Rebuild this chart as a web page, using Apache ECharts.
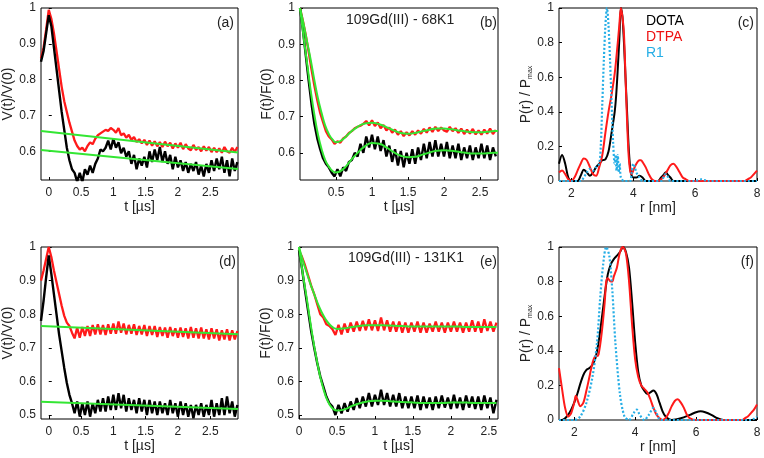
<!DOCTYPE html>
<html><head><meta charset="utf-8">
<script src="https://cdn.jsdelivr.net/npm/echarts@6/dist/echarts.min.js"></script>
<style>html,body{margin:0;padding:0;background:#fff}#c{width:764px;height:458px}</style>
</head><body><div id="c"></div>
<script>
// ---------- DATA ----------
// time grids (µs)
const tA = [-0.12,-0.08,-0.04,0,0.04,0.08,0.12,0.16,0.2,0.24,0.28,0.32,0.36,0.4,0.44,0.48,0.52,0.56,0.6,0.64,0.68,0.72,0.76,0.8,0.84,0.88,0.92,0.96,1,1.04,1.08,1.12,1.16,1.2,1.24,1.28,1.32,1.36,1.4,1.44,1.48,1.52,1.56,1.6,1.64,1.68,1.72,1.76,1.8,1.84,1.88,1.92,1.96,2,2.04,2.08,2.12,2.16,2.2,2.24,2.28,2.32,2.36,2.4,2.44,2.48,2.52,2.56,2.6,2.64,2.68,2.72,2.76,2.8,2.84,2.88,2.92];
const tB = [0,0.04,0.08,0.12,0.16,0.2,0.24,0.28,0.32,0.36,0.4,0.44,0.48,0.52,0.56,0.6,0.64,0.68,0.72,0.76,0.8,0.84,0.88,0.92,0.96,1,1.04,1.08,1.12,1.16,1.2,1.24,1.28,1.32,1.36,1.4,1.44,1.48,1.52,1.56,1.6,1.64,1.68,1.72,1.76,1.8,1.84,1.88,1.92,1.96,2,2.04,2.08,2.12,2.16,2.2,2.24,2.28,2.32,2.36,2.4,2.44,2.48,2.52,2.56,2.6,2.64,2.68,2.72];
const tE = [0,0.04,0.08,0.12,0.16,0.2,0.24,0.28,0.32,0.36,0.4,0.44,0.48,0.52,0.56,0.6,0.64,0.68,0.72,0.76,0.8,0.84,0.88,0.92,0.96,1,1.04,1.08,1.12,1.16,1.2,1.24,1.28,1.32,1.36,1.4,1.44,1.48,1.52,1.56,1.6,1.64,1.68,1.72,1.76,1.8,1.84,1.88,1.92,1.96,2,2.04,2.08,2.12,2.16,2.2,2.24,2.28,2.32,2.36,2.4,2.44,2.48,2.52,2.56,2.6];

// (a) V(t)/V(0) 68K1
const aRed = [0.86,0.89,0.94,0.995,0.97,0.93,0.88,0.83,0.78,0.74,0.71,0.68,0.655,0.63,0.615,0.605,0.61,0.6,0.615,0.625,0.62,0.635,0.645,0.65,0.655,0.66,0.657,0.665,0.66,0.652,0.665,0.645,0.65,0.638,0.646,0.632,0.64,0.626,0.634,0.622,0.632,0.618,0.63,0.616,0.628,0.614,0.626,0.612,0.627,0.614,0.624,0.608,0.622,0.61,0.624,0.606,0.62,0.608,0.603,0.618,0.604,0.612,0.6,0.614,0.602,0.612,0.598,0.61,0.598,0.608,0.596,0.612,0.6,0.596,0.61,0.598,0.612];
const aBlack = [0.85,0.88,0.93,0.98,0.95,0.89,0.83,0.77,0.71,0.66,0.61,0.575,0.55,0.54,0.515,0.54,0.515,0.55,0.535,0.56,0.54,0.565,0.58,0.605,0.6,0.61,0.63,0.605,0.635,0.61,0.625,0.595,0.61,0.585,0.6,0.565,0.59,0.55,0.58,0.56,0.585,0.555,0.6,0.57,0.605,0.575,0.612,0.57,0.6,0.565,0.59,0.55,0.585,0.555,0.575,0.545,0.57,0.54,0.565,0.545,0.57,0.535,0.56,0.53,0.565,0.54,0.575,0.545,0.58,0.55,0.585,0.54,0.575,0.53,0.58,0.545,0.57];
const aBgT = [-0.12,2.93];
const aBgRed = [0.657,0.597];
const aBgBlack = [0.604,0.551];

// (b) F(t)/F(0) 68K1
const bRed = [1.0,0.965,0.925,0.88,0.83,0.785,0.745,0.71,0.685,0.66,0.645,0.637,0.625,0.632,0.628,0.64,0.645,0.655,0.66,0.668,0.672,0.675,0.68,0.688,0.676,0.69,0.674,0.684,0.668,0.677,0.662,0.67,0.656,0.664,0.65,0.66,0.646,0.657,0.648,0.66,0.65,0.662,0.653,0.666,0.656,0.67,0.658,0.672,0.66,0.67,0.662,0.658,0.672,0.66,0.668,0.655,0.667,0.652,0.664,0.653,0.666,0.651,0.662,0.65,0.664,0.653,0.667,0.652,0.663];
const bBlack = [1.0,0.94,0.87,0.8,0.735,0.68,0.64,0.61,0.585,0.57,0.56,0.545,0.535,0.555,0.535,0.56,0.55,0.575,0.58,0.6,0.59,0.625,0.6,0.645,0.615,0.65,0.61,0.645,0.605,0.635,0.59,0.62,0.575,0.61,0.565,0.605,0.56,0.6,0.57,0.61,0.57,0.615,0.58,0.625,0.585,0.63,0.59,0.635,0.59,0.625,0.59,0.63,0.585,0.62,0.585,0.625,0.58,0.615,0.585,0.62,0.58,0.615,0.585,0.625,0.585,0.62,0.58,0.615,0.59];
const bFitT = [0,0.05,0.1,0.15,0.2,0.25,0.3,0.35,0.4,0.45,0.5,0.6,0.7,0.8,0.9,1.0,1.1,1.2,1.3,1.4,1.5,1.6,1.7,1.8,1.9,2.0,2.1,2.2,2.3,2.4,2.5,2.6,2.7,2.75];
const bFitRed = [1.0,0.955,0.905,0.855,0.8,0.75,0.71,0.675,0.652,0.637,0.629,0.638,0.657,0.672,0.681,0.683,0.679,0.671,0.662,0.655,0.653,0.655,0.66,0.664,0.667,0.667,0.665,0.662,0.659,0.657,0.657,0.658,0.66,0.66];
const bFitBlack = [1.0,0.92,0.845,0.77,0.705,0.65,0.61,0.58,0.562,0.55,0.546,0.555,0.578,0.6,0.618,0.627,0.625,0.615,0.602,0.592,0.588,0.589,0.595,0.601,0.606,0.607,0.606,0.603,0.6,0.598,0.598,0.599,0.6,0.6];

// (c) P(r)/Pmax 68K1
const cDotaR = [1.6,1.7,1.8,1.9,2.0,2.2,2.3,2.4,2.5,2.6,2.7,2.8,2.9,3.0,3.1,3.2,3.3,3.4,3.45,3.5,3.55,3.6,3.65,3.7,3.75,3.8,3.85,3.9,3.95,4.0,4.1,4.2,4.3,4.4,4.5,4.8,4.9,5.0,5.05,5.1,5.2,5.3,6,7,8];
const cDota = [0.1,0.15,0.1,0.02,0,0,0.03,0.065,0.05,0.03,0.05,0.08,0.1,0.12,0.125,0.17,0.28,0.4,0.5,0.65,0.82,1.0,0.95,0.8,0.6,0.4,0.2,0.08,0.03,0.02,0.02,0.03,0.02,0,0,0,0.02,0.04,0.05,0.04,0.02,0,0,0,0];
const cDtpaR = [1.6,1.7,1.8,1.9,2.0,2.1,2.2,2.3,2.4,2.5,2.6,2.7,2.8,2.9,3.0,3.1,3.2,3.3,3.4,3.5,3.55,3.6,3.65,3.7,3.75,3.8,3.85,3.9,3.95,4.0,4.1,4.2,4.25,4.3,4.4,4.5,4.6,4.7,4.8,4.9,5.0,5.1,5.2,5.3,5.4,5.5,5.6,5.7,5.8,6,7,7.5,7.6,7.7,7.8,7.9,8];
const cDtpa = [0.05,0.06,0.04,0.01,0,0.02,0.06,0.1,0.13,0.12,0.08,0.04,0.03,0.08,0.15,0.28,0.4,0.5,0.62,0.8,0.9,1.0,0.95,0.85,0.6,0.35,0.15,0.06,0.04,0.06,0.1,0.12,0.12,0.11,0.08,0.04,0.01,0,0,0.01,0.03,0.06,0.09,0.1,0.08,0.05,0.02,0.01,0,0,0,0,0,0.01,0.02,0.04,0.06];
const cR1R = [1.6,2.0,2.3,2.4,2.5,2.6,2.7,2.8,2.9,2.95,3.0,3.05,3.1,3.15,3.2,3.25,3.3,3.35,3.4,3.43,3.46,3.5,3.53,3.56,3.6,3.7,3.8,3.9,3.95,4.0,4.05,4.1,4.2,4.3,4.5,4.9,5.0,5.05,5.1,5.2,5.5,6.0,6.2,6.4,7,8];
const cR1 = [0,0,0,0.02,0.05,0.07,0.06,0.08,0.1,0.2,0.45,0.7,0.9,1.0,0.9,0.7,0.45,0.22,0.1,0.15,0.06,0.15,0.05,0.1,0.02,0,0,0,0.05,0.1,0.08,0.05,0.02,0,0,0,0.03,0.04,0.03,0,0,0,0.01,0,0,0];

// (d) V(t)/V(0) 131K1
const dRed = [0.9,0.93,0.965,1.0,0.97,0.93,0.895,0.86,0.825,0.795,0.775,0.765,0.745,0.728,0.76,0.73,0.762,0.735,0.765,0.735,0.768,0.74,0.77,0.74,0.768,0.738,0.77,0.742,0.772,0.742,0.778,0.745,0.772,0.74,0.768,0.742,0.77,0.738,0.765,0.74,0.768,0.735,0.765,0.738,0.765,0.732,0.762,0.735,0.76,0.73,0.762,0.735,0.758,0.73,0.76,0.732,0.758,0.728,0.762,0.73,0.758,0.728,0.76,0.728,0.755,0.725,0.758,0.728,0.755,0.722,0.752,0.725,0.755,0.722,0.752,0.725,0.75];
const dBlack = [0.78,0.84,0.91,0.975,0.92,0.86,0.8,0.74,0.69,0.64,0.595,0.56,0.535,0.505,0.54,0.495,0.535,0.5,0.54,0.495,0.535,0.505,0.545,0.51,0.55,0.51,0.555,0.515,0.56,0.515,0.565,0.52,0.56,0.51,0.55,0.515,0.545,0.505,0.55,0.51,0.545,0.5,0.545,0.505,0.54,0.5,0.54,0.505,0.535,0.5,0.545,0.505,0.535,0.495,0.54,0.5,0.535,0.495,0.53,0.49,0.53,0.5,0.535,0.495,0.53,0.5,0.545,0.495,0.535,0.5,0.55,0.5,0.555,0.505,0.54,0.495,0.53];
const dBgT = [-0.12,2.93];
const dBgRed = [0.765,0.74];
const dBgBlack = [0.539,0.518];

// (e) F(t)/F(0) 131K1
const eRed = [0.99,0.97,0.945,0.915,0.885,0.86,0.83,0.8,0.79,0.77,0.765,0.755,0.738,0.768,0.74,0.772,0.745,0.775,0.748,0.778,0.75,0.78,0.752,0.785,0.752,0.782,0.75,0.79,0.752,0.782,0.748,0.778,0.748,0.778,0.745,0.775,0.745,0.775,0.748,0.778,0.745,0.775,0.745,0.772,0.748,0.778,0.748,0.775,0.745,0.775,0.748,0.778,0.748,0.775,0.745,0.775,0.748,0.782,0.748,0.778,0.745,0.785,0.75,0.778,0.748,0.775];
const eBlack = [0.99,0.935,0.87,0.81,0.75,0.7,0.655,0.615,0.585,0.555,0.535,0.525,0.5,0.53,0.505,0.535,0.51,0.54,0.515,0.55,0.52,0.555,0.525,0.565,0.525,0.56,0.53,0.575,0.53,0.565,0.525,0.56,0.525,0.565,0.52,0.555,0.52,0.555,0.52,0.558,0.515,0.555,0.52,0.552,0.515,0.555,0.52,0.558,0.522,0.552,0.518,0.56,0.52,0.552,0.515,0.558,0.522,0.555,0.518,0.555,0.515,0.558,0.52,0.552,0.505,0.545];
const eFitT = [0,0.05,0.1,0.15,0.2,0.25,0.3,0.35,0.4,0.45,0.5,0.6,0.7,0.8,0.9,1.0,1.1,1.2,1.3,1.4,1.5,1.6,1.7,1.8,1.9,2.0,2.1,2.2,2.3,2.4,2.5,2.6];
const eFitRed = [1.0,0.96,0.925,0.89,0.86,0.83,0.805,0.785,0.77,0.76,0.756,0.758,0.762,0.765,0.767,0.767,0.767,0.766,0.765,0.764,0.763,0.763,0.763,0.763,0.763,0.763,0.763,0.762,0.762,0.762,0.762,0.762];
const eFitBlack = [1.0,0.92,0.85,0.775,0.705,0.645,0.595,0.557,0.532,0.518,0.513,0.517,0.527,0.535,0.54,0.542,0.542,0.541,0.539,0.538,0.537,0.536,0.536,0.536,0.536,0.537,0.537,0.537,0.536,0.536,0.536,0.536];

// (f) P(r)/Pmax 131K1
const fDotaR = [1.5,1.6,1.7,1.8,1.9,2.0,2.1,2.2,2.3,2.4,2.5,2.6,2.7,2.8,2.9,3.0,3.1,3.2,3.3,3.4,3.5,3.6,3.7,3.8,3.9,4.0,4.1,4.2,4.3,4.4,4.5,4.6,4.7,4.8,4.9,5.0,5.2,5.5,5.8,6.0,6.15,6.3,6.5,6.7,6.9,8];
const fDota = [0,0,0.01,0.03,0.06,0.1,0.15,0.21,0.26,0.29,0.3,0.32,0.36,0.45,0.58,0.72,0.84,0.9,0.93,0.95,0.97,1.0,0.97,0.88,0.68,0.45,0.28,0.2,0.17,0.15,0.16,0.17,0.15,0.1,0.05,0.02,0,0.01,0.03,0.045,0.05,0.045,0.03,0.01,0,0];
const fDtpaR = [1.5,1.6,1.7,1.8,1.9,2.0,2.05,2.1,2.2,2.3,2.4,2.5,2.6,2.7,2.75,2.8,2.9,3.0,3.05,3.1,3.2,3.25,3.3,3.4,3.5,3.6,3.7,3.8,3.9,4.0,4.1,4.2,4.3,4.4,4.5,4.6,4.7,4.8,4.9,5.0,5.1,5.2,5.3,5.4,5.5,5.6,5.7,5.8,6.0,7.0,7.5,7.6,7.7,7.8,7.9,8];
const fDtpa = [0.3,0.18,0.07,0.02,0.04,0.1,0.14,0.12,0.08,0.1,0.17,0.25,0.33,0.37,0.37,0.38,0.5,0.68,0.8,0.82,0.8,0.8,0.83,0.88,0.97,1.0,0.96,0.8,0.55,0.35,0.25,0.2,0.18,0.16,0.12,0.07,0.03,0.01,0,0.01,0.04,0.08,0.11,0.12,0.1,0.07,0.03,0.01,0,0,0,0.01,0.02,0.04,0.06,0.09];
const fR1R = [1.5,2.0,2.2,2.4,2.6,2.75,2.85,2.95,3.05,3.15,3.25,3.35,3.5,3.65,3.8,3.95,4.05,4.15,4.3,4.45,4.6,4.7,4.85,7.8,8];
const fR1 = [0,0,0.02,0.1,0.25,0.45,0.7,0.9,1.0,0.95,0.75,0.45,0.15,0.02,0,0.04,0.06,0.03,0,0.03,0.07,0.04,0,0,0.02];

// tick labels
const xTicksAD = [0,0.5,1,1.5,2,2.5];
const xTicksB = [0.5,1,1.5,2,2.5];
const xTicksE = [0,0.5,1,1.5,2,2.5];
const xTicksR = [2,4,6,8];
const yTicksAB = [0.6,0.7,0.8,0.9,1];
const yTicksDE = [0.5,0.6,0.7,0.8,0.9,1];
const yTicksP = [0,0.2,0.4,0.6,0.8,1];
const legendNames = ['DOTA','DTPA','R1'];
const panelTags = ['(a)','(b)','(c)','(d)','(e)','(f)'];
const titleB = '109Gd(III) - 68K1';
const titleE = '109Gd(III) - 131K1';

// ---------- STYLE ----------
const FONT = 'Liberation Sans, Arial, sans-serif';
const RED = '#ff1a1a', BLACK = '#000000', GREEN = '#33e633', BLUE = '#26aee6';
const zip = (x, y) => x.map((v, i) => [v, y[i]]);

const grids = [
  {left: 41, top: 8, width: 197, height: 172},
  {left: 300, top: 8, width: 198, height: 172},
  {left: 559, top: 8, width: 198, height: 173},
  {left: 41, top: 247, width: 197, height: 172},
  {left: 299, top: 247, width: 199, height: 172},
  {left: 559, top: 247, width: 198, height: 173}
].map(g => Object.assign({show: true, borderColor: '#000', borderWidth: 1, backgroundColor: '#fff', containLabel: false}, g));

function xAxis(i, min, max, ticks, name) {
  return {type: 'value', gridIndex: i, min, max,
    name, nameLocation: 'middle', nameGap: 20,
    nameTextStyle: {fontFamily: FONT, fontSize: 14, color: '#222'},
    axisLine: {show: false}, splitLine: {show: false},
    axisTick: {show: true, inside: true, length: 3, lineStyle: {color: '#000'}, customValues: ticks},
    axisLabel: {fontFamily: FONT, fontSize: 12, color: '#222', margin: 7, customValues: ticks}
  };
}
function yAxis(i, min, max, ticks, name, gap) {
  return {type: 'value', gridIndex: i, min, max,
    name, nameLocation: 'middle', nameGap: gap,
    nameTextStyle: {fontFamily: FONT, fontSize: 14, color: '#222',
      rich: {m: {fontFamily: FONT, fontSize: 14, color: '#222'}, s: {fontFamily: FONT, fontSize: 7, color: '#222', padding: [7, 0, 0, 0]}}},
    axisLine: {show: false}, splitLine: {show: false},
    axisTick: {show: true, inside: true, length: 3, lineStyle: {color: '#000'}, customValues: ticks},
    axisLabel: {fontFamily: FONT, fontSize: 12, color: '#222', margin: 5, customValues: ticks}
  };
}

function line(name, xi, data, color, width, extra) {
  return Object.assign({name, type: 'line', xAxisIndex: xi, yAxisIndex: xi, data, showSymbol: false, symbol: 'none',
    lineStyle: {color, width}, itemStyle: {color}, animation: false, silent: true, z: 2}, extra || {});
}

const series = [
  line('DTPA', 0, zip(tA, aRed), RED, 2.3),
  line('DOTA', 0, zip(tA, aBlack), BLACK, 2.4),
  line('fit', 0, zip(aBgT, aBgRed), GREEN, 2, {z: 3}),
  line('fit', 0, zip(aBgT, aBgBlack), GREEN, 2, {z: 3}),

  line('DTPA', 1, zip(tB, bRed), RED, 2.3),
  line('DOTA', 1, zip(tB, bBlack), BLACK, 2.4),
  line('fit', 1, zip(bFitT, bFitRed), GREEN, 2, {smooth: true, z: 3}),
  line('fit', 1, zip(bFitT, bFitBlack), GREEN, 2, {smooth: true, z: 3}),

  line('DOTA', 2, zip(cDotaR, cDota), BLACK, 2, {smooth: 0.3}),
  line('DTPA', 2, zip(cDtpaR, cDtpa), RED, 2, {smooth: 0.3}),
  line('R1', 2, zip(cR1R, cR1), BLUE, 2.2, {smooth: 0.3, lineStyle: {color: BLUE, width: 2.2, type: [2, 2]}}),

  line('DTPA', 3, zip(tA, dRed), RED, 2.3),
  line('DOTA', 3, zip(tA, dBlack), BLACK, 2.4),
  line('fit', 3, zip(dBgT, dBgRed), GREEN, 2, {z: 3}),
  line('fit', 3, zip(dBgT, dBgBlack), GREEN, 2, {z: 3}),

  line('DTPA', 4, zip(tE, eRed), RED, 2.3),
  line('DOTA', 4, zip(tE, eBlack), BLACK, 2.4),
  line('fit', 4, zip(eFitT, eFitRed), GREEN, 2, {smooth: true, z: 3}),
  line('fit', 4, zip(eFitT, eFitBlack), GREEN, 2, {smooth: true, z: 3}),

  line('DOTA', 5, zip(fDotaR, fDota), BLACK, 2, {smooth: 0.3}),
  line('DTPA', 5, zip(fDtpaR, fDtpa), RED, 2, {smooth: 0.3}),
  line('R1', 5, zip(fR1R, fR1), BLUE, 2.2, {smooth: 0.3, lineStyle: {color: BLUE, width: 2.2, type: [2, 2]}})
];

const tagPos = [[234, 16], [497, 16], [754, 16], [236, 255], [497, 255], [754, 255]];
const graphic = panelTags.map((t, i) => ({type: 'text', right: 764 - tagPos[i][0], top: tagPos[i][1],
  style: {text: t, font: '14px ' + FONT, fill: '#222'}, z: 10}));
graphic.push({type: 'text', left: 346, top: 13, style: {text: titleB, font: '14px ' + FONT, fill: '#222'}, z: 10});
graphic.push({type: 'text', left: 348, top: 251, style: {text: titleE, font: '14px ' + FONT, fill: '#222'}, z: 10});

const option = {
  backgroundColor: '#fff',
  animation: false,
  grid: grids,
  xAxis: [
    xAxis(0, -0.12, 2.93, xTicksAD, 't [µs]'),
    xAxis(1, 0, 2.75, xTicksB, 't [µs]'),
    xAxis(2, 1.6, 8, xTicksR, 'r [nm]'),
    xAxis(3, -0.12, 2.93, xTicksAD, 't [µs]'),
    xAxis(4, 0, 2.62, xTicksE, 't [µs]'),
    xAxis(5, 1.5, 8, xTicksR, 'r [nm]')
  ],
  yAxis: [
    yAxis(0, 0.52, 1, yTicksAB, 'V(t)/V(0)', 22),
    yAxis(1, 0.525, 1, yTicksAB, 'F(t)/F(0)', 22),
    yAxis(2, 0, 1, yTicksP, '{m|P(r) / P}{s|max}', 23),
    yAxis(3, 0.488, 1, yTicksDE, 'V(t)/V(0)', 22),
    yAxis(4, 0.488, 1, yTicksDE, 'F(t)/F(0)', 22),
    yAxis(5, 0, 1, yTicksP, '{m|P(r) / P}{s|max}', 23)
  ],
  legend: {
    show: true, orient: 'vertical', left: 636, top: 9, itemWidth: 0, itemHeight: 0, itemGap: 2, icon: 'none',
    selectedMode: false,
    textStyle: {fontFamily: FONT, fontSize: 14, padding: 0},
    data: [
      {name: legendNames[0], textStyle: {color: BLACK}},
      {name: legendNames[1], textStyle: {color: '#ee1111'}},
      {name: legendNames[2], textStyle: {color: BLUE}}
    ]
  },
  graphic,
  series
};
const chart = echarts.init(document.getElementById('c'), null, {renderer: 'canvas'});
chart.setOption(option);
</script></body></html>
